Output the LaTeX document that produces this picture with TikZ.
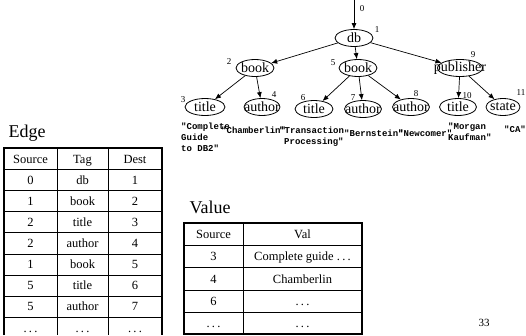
\documentclass[tikz,border=0pt]{standalone}
\usepackage{fontspec}
\setmainfont{Liberation Serif}
\newfontfamily\codefont{Liberation Mono}
\usetikzlibrary{shapes.geometric,arrows.meta}
\newcommand\tdots{.\hspace{2.3pt}.\hspace{2.3pt}.}
\begin{document}
\begin{tikzpicture}[x=1pt,y=-1pt,
  tn/.style={ellipse,draw,line width=0.8pt,minimum width=38pt,minimum height=17pt,inner sep=0pt},
  tl/.style={font=\fontsize{14}{14}\selectfont, inner sep=0pt},
  num/.style={font=\fontsize{9}{9}\selectfont, inner sep=0pt},
  val/.style={font=\codefont\bfseries\fontsize{9}{11}\selectfont, inner sep=0pt, anchor=base west},
  arr/.style={-{Latex[length=6pt,width=5pt]}, line width=0.7pt},
  cell/.style={font=\fontsize{12.5}{12.5}\selectfont, inner sep=0pt, anchor=base},
  ttl/.style={font=\fontsize{18}{18}\selectfont, inner sep=0pt},
  outer/.style={line width=1.4pt},
  inner/.style={line width=0.7pt},
]
\useasboundingbox (0,0) rectangle (526,335);

% tree
\node[tn, label={[tl]center:db}] (db) at (354,38) {};
\node[tn, label={[tl]center:book}] (b2) at (255,68) {};
\node[tn, label={[tl]center:book}] (b5) at (358,68) {};
\node[tn, minimum width=45pt, label={[tl]center:publisher}] (pub) at (460,68) {};
\node[tn, minimum width=40pt, label={[tl]center:title}] (t3) at (205,107) {};
\node[tn, minimum width=36pt, label={[tl]center:author}] (a4) at (262,107) {};
\node[tn, label={[tl]center:title}] (t6) at (314,109) {};
\node[tn, minimum width=37pt, label={[tl]center:author}] (a7) at (363,109) {};
\node[tn, minimum width=37pt, label={[tl]center:author}] (a8) at (411,107) {};
\node[tn, minimum width=37pt, label={[tl]center:title}] (t10) at (458,107) {};
\node[tn, minimum width=34pt, label={[tl]center:state}] (s11) at (503,107) {};

\coordinate (top) at (354,0);
\draw[arr] (top) -- (db);
\draw[arr] (db) -- (b2);
\draw[arr] (db) -- (b5);
\draw[arr] (db) -- (pub);
\draw[arr] (b2) -- (t3);
\draw[arr] (b2) -- (a4);
\draw[arr] (b5) -- (t6);
\draw[arr] (b5) -- (a7);
\draw[arr] (b5) -- (a8);
\draw[arr] (pub) -- (t10);
\draw[arr] (pub) -- (s11);

% oid numbers
\node[num] (n0) at (362,9) {0};
\node[num] (n1) at (377,30) {1};
\node[num] (n2) at (229,62) {2};
\node[num] (n5) at (333,63) {5};
\node[num] (n9) at (473,55) {9};
\node[num] (n3) at (183,100) {3};
\node[num] (n4) at (274,95) {4};
\node[num] (n6) at (303,98) {6};
\node[num] (n7) at (353,98) {7};
\node[num] (n8) at (416,94) {8};
\node[num] (n10) at (467,96) {10};
\node[num] (n11) at (521,93) {11};

% atomic values
\node[val] (v3a) at (181,129) {"Complete};
\node[val] (v3b) at (181,140) {Guide};
\node[val] (v3c) at (181,151) {to DB2"};
\node[val] (v4) at (221,133.5) {"Chamberlin"};
\node[val] (v6a) at (279,133.5) {"Transaction};
\node[val] (v6b) at (284,144.5) {Processing"};
\node[val] (v7) at (344,136.5) {"Bernstein"};
\node[val] (v8) at (398,136.5) {"Newcomer"};
\node[val] (v10a) at (448,129) {"Morgan};
\node[val] (v10b) at (448,140) {Kaufman"};
\node[val] (v11) at (504,132) {"CA"};

% Edge table
\node[ttl] (edgettl) at (27,133) {Edge};
\draw[outer] (4,335) -- (4,148) -- (162,148) -- (162,335);
\foreach \y in {169.5,190.6,211.7,232.8,253.9,275,296.1,317.2}
  \draw[inner] (4,\y) -- (162,\y);
\draw[inner] (57,148) -- (57,335) (108,148) -- (108,335);
\foreach \a/\b/\c [count=\i from 0] in {Source/Tag/Dest,0/db/1,1/book/2,2/title/3,2/author/4,1/book/5,5/title/6,5/author/7,\tdots/\tdots/\tdots}{
  \pgfmathsetmacro\yy{(\i==0) ? 158.75+4.3 : 169.5+(\i-0.5)*21.1+4.3}
  \node[cell] (es\i) at (30.5,\yy) {\a};
  \node[cell] (et\i) at (82.5,\yy) {\b};
  \node[cell] (ed\i) at (135,\yy) {\c};
}

% Value table
\node[ttl] (valttl) at (210,207) {Value};
\draw[outer] (184,223) rectangle (362,334);
\foreach \y in {245,267.5,290,312}
  \draw[inner] (184,\y) -- (362,\y);
\draw[inner] (243,223) -- (243,334);
\foreach \a/\b/\yc [count=\i from 0] in {Source/Val/234,3/Complete guide \tdots/256.25,4/Chamberlin/278.75,6/\tdots/301,\tdots/\tdots/323}{
  \node[cell] (vs\i) at (213.5,\yc+4.3) {\a};
  \node[cell] (vv\i) at (302.5,\yc+4.3) {\b};
}

\node[font=\fontsize{11}{11}\selectfont, inner sep=0pt] (page) at (484,323) {33};
\end{tikzpicture}
\end{document}
